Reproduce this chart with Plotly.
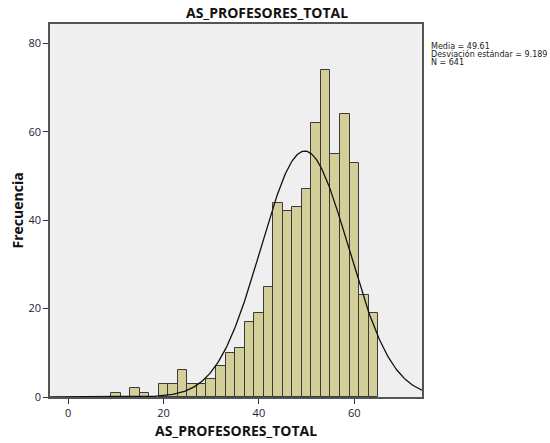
import numpy as np
import plotly.graph_objects as go

# ---- data ----
bin_starts = [9, 11, 13, 15, 17, 19, 21, 23, 25, 27, 29, 31, 33, 35, 37, 39,
              41, 43, 45, 47, 49, 51, 53, 55, 57, 59, 61, 63]
counts = [1, 0, 2, 1, 0, 3, 3, 6, 3, 3, 4, 7, 10, 11, 17, 19,
          25, 44, 42, 43, 47, 62, 74, 55, 64, 53, 23, 19]
bin_width = 2
mean_val = 49.61
sd_val = 9.189
n_val = 641
x_ticks = [0, 20, 40, 60]
y_ticks = [0, 20, 40, 60, 80]
title_text = "AS_PROFESORES_TOTAL"
x_title = "AS_PROFESORES_TOTAL"
y_title = "Frecuencia"
stats_lines = ["Media = 49.61", "Desviación estándar = 9.189", "N = 641"]

x_range = [-3.8, 74.2]
y_range = [0, 84.4]

centers = [s + bin_width / 2 for s, c in zip(bin_starts, counts) if c > 0]
heights = [c for c in counts if c > 0]

xs = np.linspace(x_range[0], x_range[1], 400)
ys = n_val * bin_width / (sd_val * np.sqrt(2 * np.pi)) * np.exp(-0.5 * ((xs - mean_val) / sd_val) ** 2)

fig = go.Figure()
fig.add_trace(go.Bar(
    x=centers, y=heights, width=bin_width,
    marker=dict(color="#d4cf98", line=dict(color="#3a3a3a", width=1)),
    showlegend=False, hoverinfo="x+y",
))
fig.add_trace(go.Scatter(
    x=xs, y=ys, mode="lines", line=dict(color="#111111", width=1.3),
    showlegend=False, hoverinfo="skip",
))

font_fam = "Open Sans, DejaVu Sans, sans-serif"
L, R, T, B = 50, 128, 24, 46
pw = 550 - L - R
ph = 443 - T - B

fig.update_layout(
    width=550, height=443,
    margin=dict(l=L, r=R, t=T, b=B),
    paper_bgcolor="white", plot_bgcolor="#efefef",
    bargap=0,
    font=dict(family=font_fam, color="#222233"),
    xaxis=dict(
        range=x_range, tickvals=x_ticks, ticks="outside", ticklen=5,
        tickcolor="#333333", tickwidth=1.2, automargin=False,
        showgrid=False, zeroline=False,
        showline=True, mirror=True, linecolor="#555555", linewidth=1.5,
        tickfont=dict(size=11, color="#222233"),
    ),
    yaxis=dict(
        range=y_range, tickvals=y_ticks, ticks="outside", ticklen=5,
        tickcolor="#333333", tickwidth=1.2, automargin=False,
        showgrid=False, zeroline=False,
        showline=True, mirror=True, linecolor="#555555", linewidth=1.5,
        tickfont=dict(size=11, color="#222233"),
    ),
)

fig.add_annotation(
    text="<b>" + title_text + "</b>", xref="paper", yref="paper",
    x=(267 - L) / pw, y=1, yshift=12, xanchor="center", yanchor="middle",
    showarrow=False, font=dict(size=14, color="#111111", family=font_fam),
)
fig.add_annotation(
    text="<b>" + x_title + "</b>", xref="paper", yref="paper",
    x=0.5, y=0, yshift=-(430 - (443 - B)), xanchor="center", yanchor="middle",
    showarrow=False, font=dict(size=14, color="#111111", family=font_fam),
)
fig.add_annotation(
    text="<b>" + y_title + "</b>", xref="paper", yref="paper",
    x=0, xshift=-(L - 17), y=0.5, xanchor="center", yanchor="middle", textangle=-90,
    showarrow=False, font=dict(size=14, color="#111111", family=font_fam),
)

for i, line in enumerate(stats_lines):
    fig.add_annotation(
        text=line, xref="paper", yref="paper",
        x=1, xshift=7, y=1, yshift=-22 - 8 * i,
        xanchor="left", yanchor="middle", showarrow=False,
        font=dict(size=8, color="#222222", family="DejaVu Sans, sans-serif"),
    )

fig.write_html("out.html")
